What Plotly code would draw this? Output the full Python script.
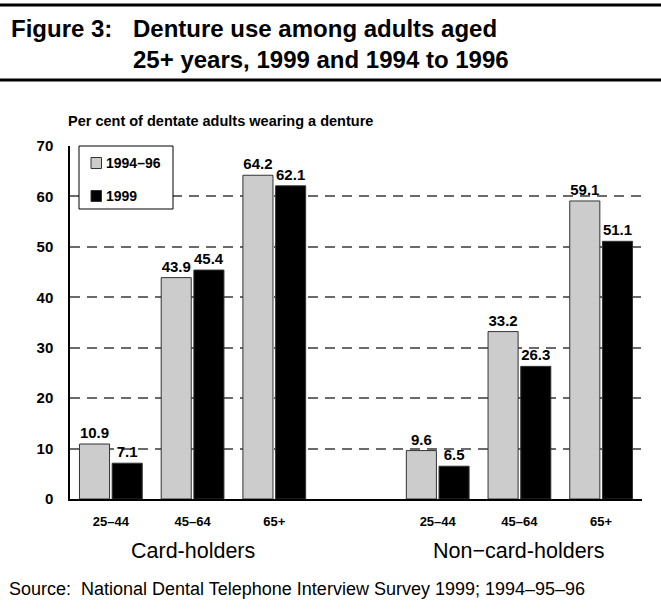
import plotly.graph_objects as go

# ---- data ----
slots = ["c1", "c2", "c3", "gap", "n1", "n2", "n3"]
tick_labels = ["25–44", "45–64", "65+", "", "25–44", "45–64", "65+"]
v_1994_96 = [10.9, 43.9, 64.2, None, 9.6, 33.2, 59.1]
v_1999 = [7.1, 45.4, 62.1, None, 6.5, 26.3, 51.1]
series_names = ["1994–96", "1999"]
series_colors = ["#cccccc", "#000000"]
group_labels = ["Card-holders", "Non−card-holders"]
y_ticks = [0, 10, 20, 30, 40, 50, 60, 70]

W, H = 661, 613
ML, MR, MT, MB = 70, 19, 146, 114
PW = W - ML - MR
PH = H - MT - MB

def px_x(px):
    return (px - ML) / PW

def px_y(py):
    return (H - MB - py) / PH

FONT = "Liberation Sans, Arial, sans-serif"

fig = go.Figure()
for name, vals, col in zip(series_names, [v_1994_96, v_1999], series_colors):
    fig.add_trace(go.Bar(
        x=slots, y=vals, name=name, showlegend=False,
        marker=dict(color=col, line=dict(color="#333333", width=1)),
        texttemplate="<b>%{y:.1f}</b>", textposition="outside",
        textfont=dict(family=FONT, size=15, color="black"),
        cliponaxis=False,
    ))

annotations = [
    dict(text="<b>Per cent of dentate adults wearing a denture</b>", xref="paper", yref="paper",
         x=px_x(66), y=px_y(121), xanchor="left", yanchor="middle", showarrow=False,
         font=dict(family=FONT, size=14.5, color="black")),
    dict(text="<b>Figure 3:</b>", xref="paper", yref="paper",
         x=px_x(9), y=px_y(28), xanchor="left", yanchor="middle", showarrow=False,
         font=dict(family=FONT, size=24, color="black")),
    dict(text="<b>Denture use among adults aged</b>", xref="paper", yref="paper",
         x=px_x(131), y=px_y(28), xanchor="left", yanchor="middle", showarrow=False,
         font=dict(family=FONT, size=24, color="black")),
    dict(text="<b>25+ years, 1999 and 1994 to 1996</b>", xref="paper", yref="paper",
         x=px_x(131), y=px_y(60), xanchor="left", yanchor="middle", showarrow=False,
         font=dict(family=FONT, size=24, color="black")),
    dict(text="Source:  National Dental Telephone Interview Survey 1999; 1994–95–96", xref="paper", yref="paper",
         x=px_x(7), y=px_y(589), xanchor="left", yanchor="middle", showarrow=False,
         font=dict(family=FONT, size=18, color="black")),
]
for lab, xc in zip(group_labels, [slots[1], slots[5]]):
    annotations.append(dict(text=lab, x=xc, xref="x", yref="paper", y=px_y(551),
                            xanchor="center", yanchor="middle", showarrow=False,
                            font=dict(family=FONT, size=21.5, color="black")))

shapes = [
    dict(type="line", xref="paper", yref="paper", x0=px_x(0), x1=px_x(W), y0=px_y(5), y1=px_y(5),
         line=dict(color="black", width=3)),
    dict(type="line", xref="paper", yref="paper", x0=px_x(0), x1=px_x(W), y0=px_y(80), y1=px_y(80),
         line=dict(color="black", width=3)),
    # legend box
    dict(type="rect", xref="paper", yref="paper", x0=px_x(79), x1=px_x(173), y0=px_y(146), y1=px_y(209),
         line=dict(color="black", width=1), fillcolor="white", layer="above"),
]
# legend entries
for i, (name, col) in enumerate(zip(series_names, series_colors)):
    cy = 163 + 33 * i
    shapes.append(dict(type="rect", xref="paper", yref="paper",
                       x0=px_x(91), x1=px_x(101.5), y0=px_y(cy - 5.5), y1=px_y(cy + 5.5),
                       line=dict(color="#333333", width=1), fillcolor=col, layer="above"))
    annotations.append(dict(text="<b>%s</b>" % name, xref="paper", yref="paper",
                            x=px_x(104), y=px_y(cy), xanchor="left", yanchor="middle", showarrow=False,
                            font=dict(family=FONT, size=14, color="black")))

fig.update_layout(
    width=W, height=H, margin=dict(l=ML, r=MR, t=MT, b=MB),
    paper_bgcolor="white", plot_bgcolor="white",
    font=dict(family=FONT, color="black"),
    barmode="group", bargap=0.2, bargroupgap=0.08,
    showlegend=False,
    xaxis=dict(categoryorder="array", categoryarray=slots, tickvals=slots,
               ticktext=["<b>%s</b>" % t for t in tick_labels],
               tickfont=dict(family=FONT, size=13, color="black"),
               showline=True, linecolor="black", linewidth=1.5, ticks="", showgrid=False,
               ticklabelstandoff=10),
    yaxis=dict(range=[0, 70], tickvals=y_ticks, ticktext=["<b>%d</b>" % v for v in y_ticks],
               tickfont=dict(family=FONT, size=15, color="black"),
               showline=True, linecolor="black", linewidth=1.5, ticks="",
               showgrid=True, gridcolor="#6a6a6a", gridwidth=1.5, griddash="10px,7px",
               zeroline=False, ticklabelstandoff=12),
    annotations=annotations, shapes=shapes,
)

fig.write_html("out.html", config={"displayModeBar": False},
               post_script="document.body.style.margin='0';document.body.style.padding='0';")
